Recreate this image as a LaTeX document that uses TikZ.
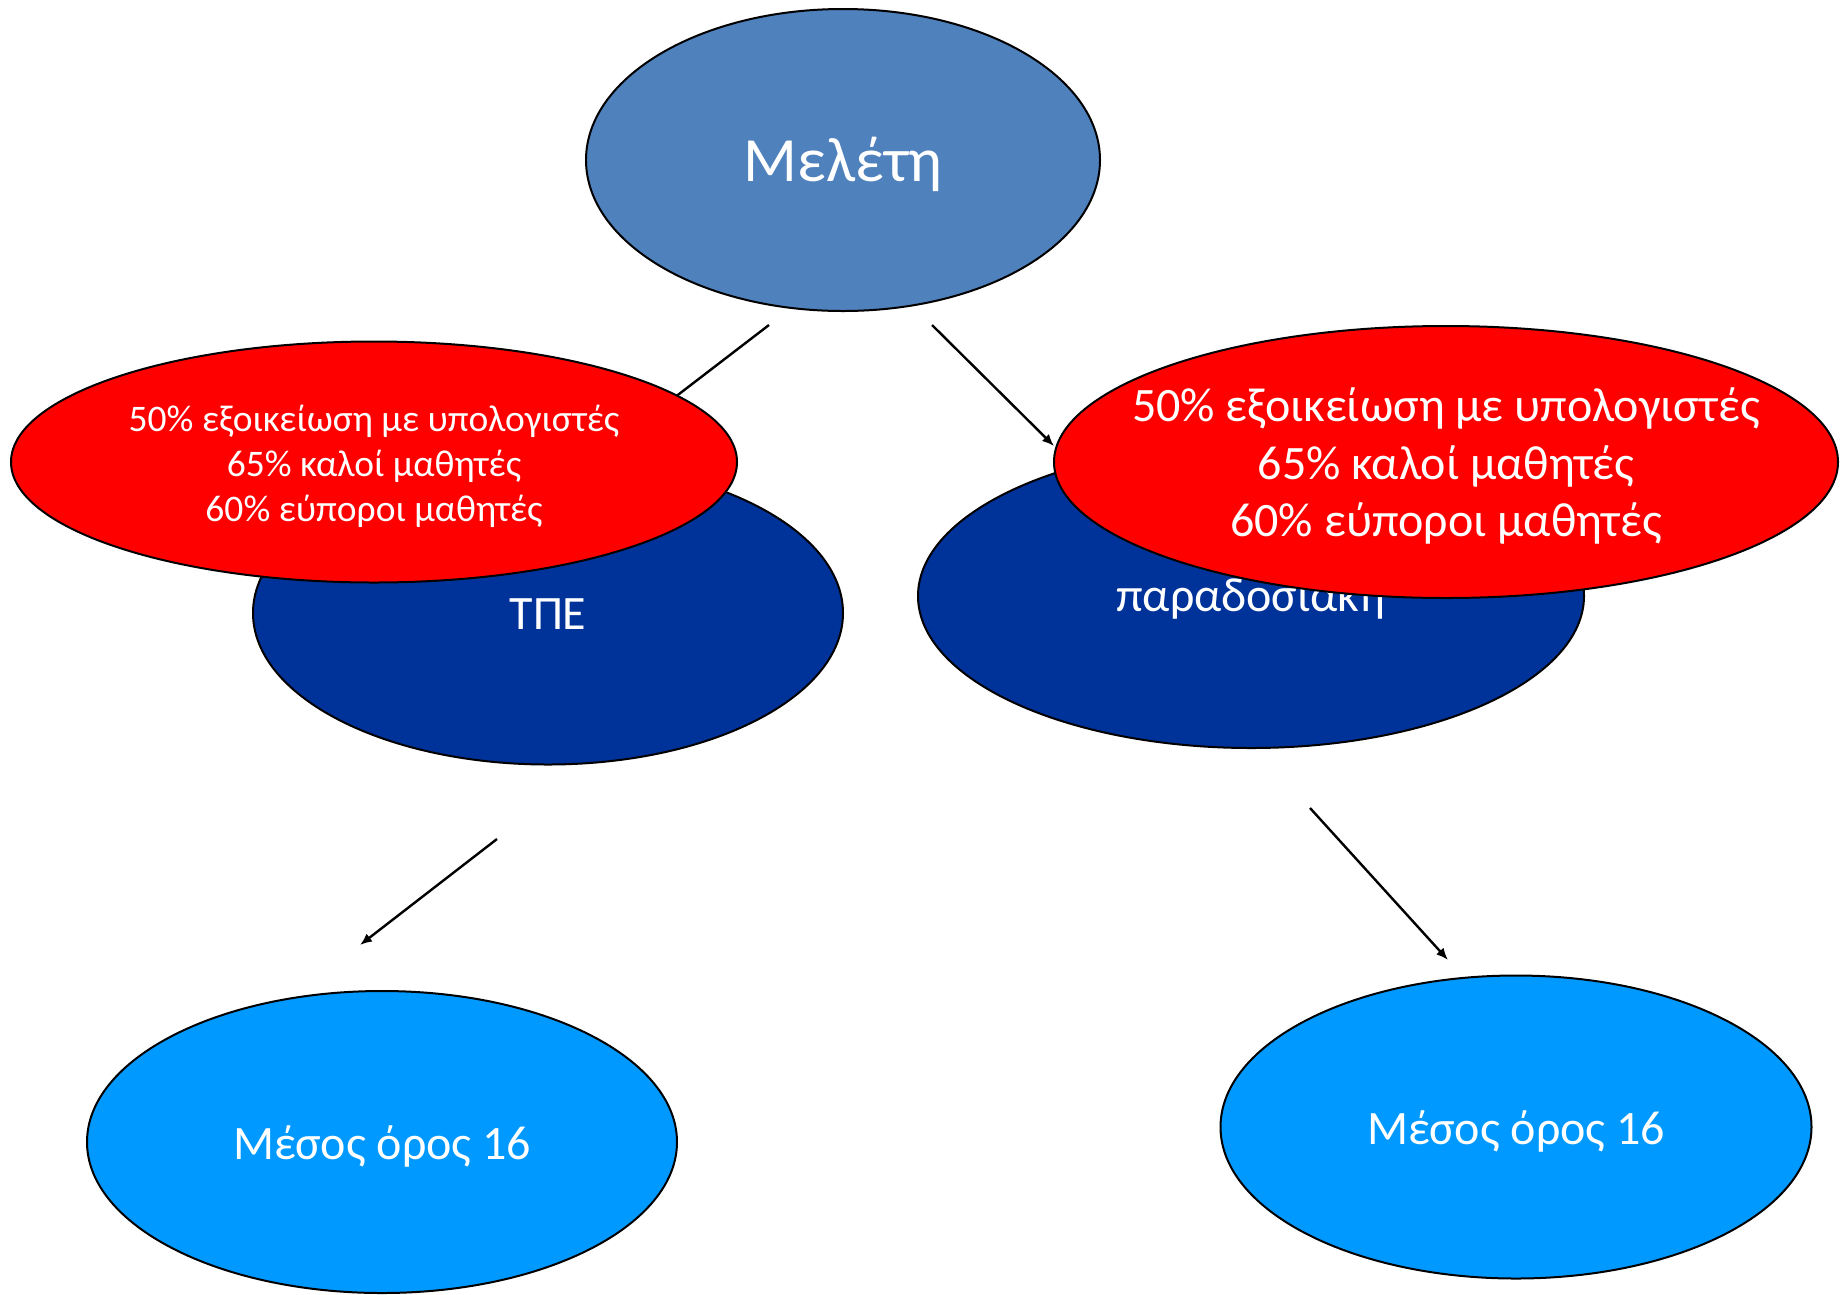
\documentclass[tikz,border=0pt]{standalone}
\usepackage{fontspec}
\setmainfont{Carlito}
\usetikzlibrary{shapes.geometric,arrows.meta}
\definecolor{topblue}{HTML}{4F81BD}
\definecolor{darkblue}{HTML}{003399}
\definecolor{lightblue}{HTML}{0099FF}
\definecolor{redfill}{HTML}{FF0000}
\tikzset{
  oval/.style={ellipse, draw=black, line width=2pt, inner sep=0pt},
  lbl/.style={text=white, align=center, inner sep=0pt},
  conn/.style={line width=2.4pt, -{Latex[length=12pt,width=10pt]}},
  plain/.style={line width=2.4pt},
}
\begin{document}
\begin{tikzpicture}[x=1pt,y=-1pt]
\useasboundingbox (0,0) rectangle (1841,1294);
% top
\node[oval, fill=topblue, minimum width=514pt, minimum height=302pt] (top) at (843,160) {};
\node[lbl, font=\fontsize{63}{75}\selectfont] (toptxt) at (843,164) {Μελέτη};
% dark blue
\node[oval, fill=darkblue, minimum width=590pt, minimum height=303pt] (tpe) at (548,613) {};
\node[lbl, font=\fontsize{48}{58}\selectfont] (tpetxt) at (548,614) {ΤΠΕ};
\node[oval, fill=darkblue, minimum width=666pt, minimum height=304pt] (trad) at (1251,596) {};
\node[lbl, font=\fontsize{48}{58}\selectfont] (tradtxt) at (1251,598) {παραδοσιακή};
% light blue
\node[oval, fill=lightblue, minimum width=590pt, minimum height=302pt] (resl) at (382,1142) {};
\node[lbl, font=\fontsize{48}{58}\selectfont] (resltxt) at (382,1146) {Μέσος όρος 16};
\node[oval, fill=lightblue, minimum width=591pt, minimum height=303pt] (resr) at (1516,1127) {};
\node[lbl, font=\fontsize{48}{58}\selectfont] (resrtxt) at (1516,1131) {Μέσος όρος 16};
% connectors
\coordinate (a1s) at (769,325);
\coordinate (a1e) at (640,424);
\coordinate (a2s) at (932,325);
\coordinate (a2e) at (1054,446);
\coordinate (a3s) at (497,839);
\coordinate (a3e) at (360,945);
\coordinate (a4s) at (1310,808);
\coordinate (a4e) at (1448,960);
\draw[plain] (a1s) -- (a1e);
\draw[conn] (a2s) -- (a2e);
\draw[conn] (a3s) -- (a3e);
\draw[conn] (a4s) -- (a4e);
% red
\node[oval, fill=redfill, minimum width=726pt, minimum height=241pt] (redl) at (374,462) {};
\node[lbl, font=\fontsize{37.5}{45}\selectfont] (redltxt) at (374,466) {50\% εξοικείωση με υπολογιστές\\65\% καλοί μαθητές\\60\% εύποροι μαθητές};
\node[oval, fill=redfill, minimum width=784pt, minimum height=272pt] (redr) at (1446,462) {};
\node[lbl, font=\fontsize{48}{57.5}\selectfont] (redrtxt) at (1446,466) {50\% εξοικείωση με υπολογιστές\\65\% καλοί μαθητές\\60\% εύποροι μαθητές};
\end{tikzpicture}
\end{document}
